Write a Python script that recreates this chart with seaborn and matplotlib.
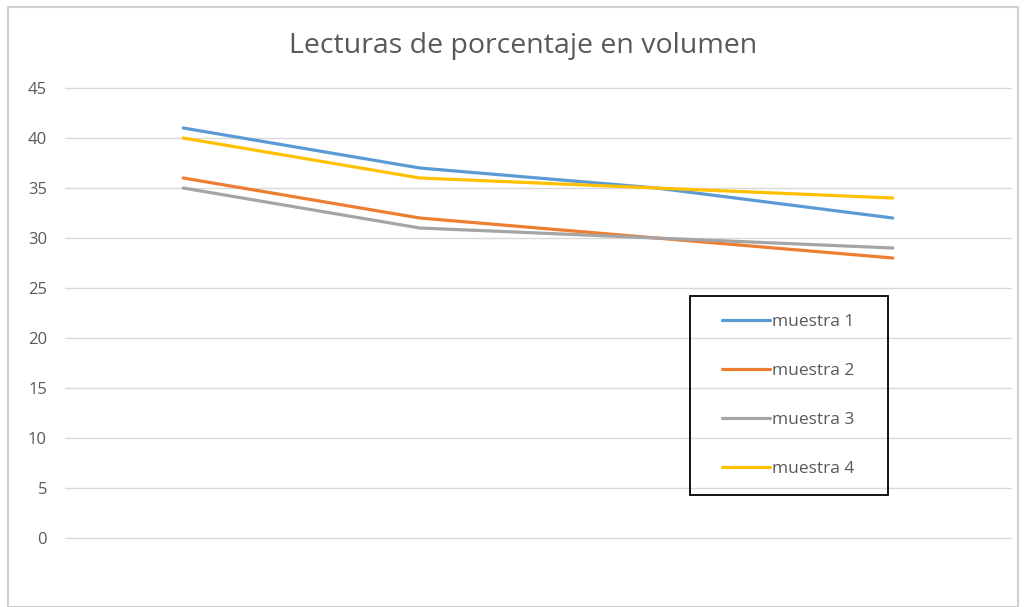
import matplotlib
matplotlib.use("Agg")
import matplotlib.pyplot as plt
import seaborn as sns
import pandas as pd
from matplotlib.patches import Rectangle

categories = [1, 2, 3, 4]
series_names = ["muestra 1", "muestra 2", "muestra 3", "muestra 4"]
muestra_1 = [41, 37, 35, 32]
muestra_2 = [36, 32, 30, 28]
muestra_3 = [35, 31, 30, 29]
muestra_4 = [40, 36, 35, 34]
y_ticks = [0, 5, 10, 15, 20, 25, 30, 35, 40, 45]
title = "Lecturas de porcentaje en volumen"
colors = ["#5B9BD5", "#ED7D31", "#A5A5A5", "#FFC000"]

rows = []
for name, vals in zip(series_names, [muestra_1, muestra_2, muestra_3, muestra_4]):
    for i, v in enumerate(vals):
        rows.append({"pos": i, "cat": categories[i], "serie": name, "valor": v})
df = pd.DataFrame(rows)

sns.set_theme(style="white")
plt.rcParams["font.family"] = ["Open Sans", "DejaVu Sans"]

fig = plt.figure(figsize=(10.24, 6.07), dpi=100)
ax = fig.add_axes([65/1024, (607-538)/607, 946/1024, 450/607])

sns.lineplot(data=df, x="pos", y="valor", hue="serie", palette=colors,
             linewidth=2.3, ax=ax, legend=True, sort=False)

ax.set_xlim(-0.5, 3.5)
ax.set_ylim(0, 45)
ax.set_yticks(y_ticks)
ax.set_xticks([])
ax.set_xlabel("")
ax.set_ylabel("")
ax.yaxis.grid(True, color="#d9d9d9", linewidth=1)
for gl in ax.yaxis.get_gridlines():
    gl.set_clip_on(False)
ax.set_axisbelow(True)
for s in ax.spines.values():
    s.set_visible(False)
ax.tick_params(axis="y", length=0, pad=13, labelsize=12, labelcolor="#595959")

fig.text(523/1024, 1 - 46/607, title, ha="center", va="center", fontsize=20.5, color="#595959")

leg = ax.legend(loc="center left", bbox_to_anchor=(722/1024, 1 - 395.5/607),
                bbox_transform=fig.transFigure, frameon=False,
                fontsize=12.5, handlelength=2.75, handletextpad=0.15,
                labelspacing=1.88, borderpad=0, borderaxespad=0)
for t in leg.get_texts():
    t.set_color("#595959")

fig.patches.append(Rectangle((690/1024, 1 - 495/607), 198/1024, 199/607,
                             transform=fig.transFigure, fill=True, facecolor="none",
                             edgecolor="black", linewidth=1.3, zorder=5))

fig.patches.append(Rectangle((8/1024, 0), 1010/1024, 1 - 7/607, transform=fig.transFigure,
                             fill=False, edgecolor="#d0d0d0", linewidth=1.5))

fig.savefig("out.png", dpi=100, facecolor="white")
